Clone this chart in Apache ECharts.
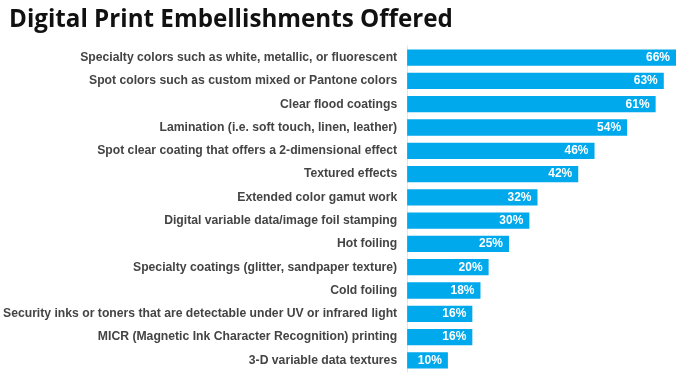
<!DOCTYPE html>
<html><head><meta charset="utf-8">
<script src="https://cdn.jsdelivr.net/npm/echarts@6/dist/echarts.min.js"></script>
<style>html,body{margin:0;padding:0;background:#fff}#c{width:686px;height:376px}</style>
</head><body><div id="c"></div>
<script>
const categories = [
  "Specialty colors such as white, metallic, or fluorescent",
  "Spot colors such as custom mixed or Pantone colors",
  "Clear flood coatings",
  "Lamination (i.e. soft touch, linen, leather)",
  "Spot clear coating that offers a 2-dimensional effect",
  "Textured effects",
  "Extended color gamut work",
  "Digital variable data/image foil stamping",
  "Hot foiling",
  "Specialty coatings (glitter, sandpaper texture)",
  "Cold foiling",
  "Security inks or toners that are detectable under UV or infrared light",
  "MICR (Magnetic Ink Character Recognition) printing",
  "3-D variable data textures"
];
const values = [66, 63, 61, 54, 46, 42, 32, 30, 25, 20, 18, 16, 16, 10];
const titleText = "Digital Print Embellishments Offered";

const chart = echarts.init(document.getElementById('c'), null, {renderer: 'canvas'});
chart.setOption({
  animation: false,
  backgroundColor: '#fff',
  title: {
    text: titleText, left: 4, top: 3,
    textStyle: {fontFamily: 'Open Sans', fontWeight: 'bold', fontSize: 24.2, color: '#111'}
  },
  grid: {left: 407, right: 10, top: 46, bottom: 4},
  xAxis: {type: 'value', min: 0, max: 66, show: false},
  yAxis: {
    type: 'category', data: categories, inverse: true,
    axisLine: {show: true, lineStyle: {color: '#e4e4e4', width: 1}},
    axisTick: {show: false},
    axisLabel: {margin: 10, color: '#444', fontFamily: 'Liberation Sans', fontWeight: 'bold', fontSize: 12.2}
  },
  series: [{
    type: 'bar', data: values, barCategoryGap: '30%',
    itemStyle: {color: '#00a8ec'},
    label: {show: true, position: 'insideRight', formatter: '{c}%', color: '#fff',
      fontFamily: 'Liberation Sans', fontWeight: 'bold', fontSize: 12, distance: 6}
  }]
});
</script></body></html>
